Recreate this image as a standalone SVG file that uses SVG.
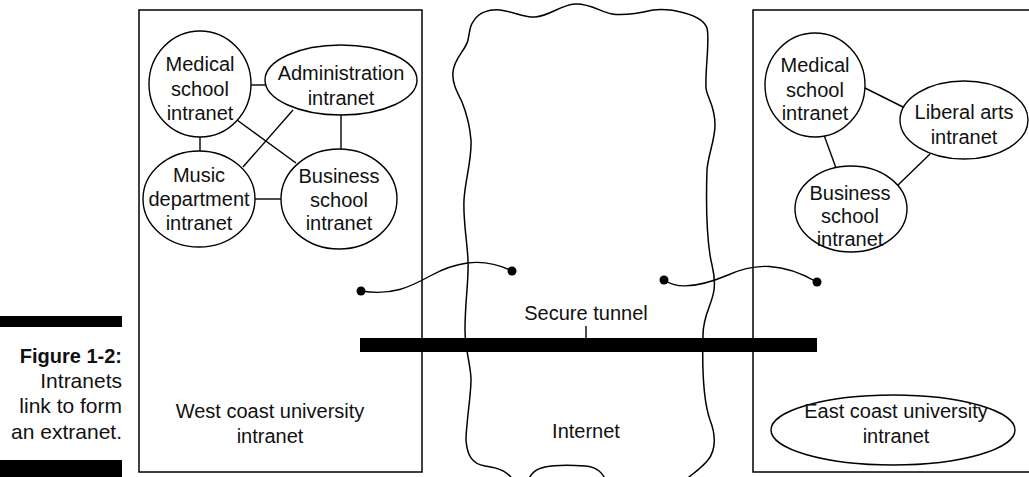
<svg xmlns="http://www.w3.org/2000/svg" width="1029" height="477" viewBox="0 0 1029 477">
<style>
  .box{fill:none;stroke:#000;stroke-width:1.5}
  .node{fill:#fff;stroke:#000;stroke-width:1.4}
  .edge{fill:none;stroke:#000;stroke-width:1.4}
  .cloud{fill:none;stroke:#000;stroke-width:1.5}
  text{font-family:"Liberation Sans",Arial,sans-serif;font-size:20px;fill:#111}
  .c{text-anchor:middle}
  .r{text-anchor:end}
  .cap{font-size:21px}
  .capb{font-size:20px;font-weight:bold}
  .dot{fill:#000}
</style>
<rect width="1029" height="477" fill="#fff"/>

<g id="caption">
  <rect x="0" y="316" width="122" height="11" fill="#000"/>
  <text class="r capb" x="122" y="363">Figure 1-2:</text>
  <text class="r cap" x="122" y="388">Intranets</text>
  <text class="r cap" x="122" y="413">link to form</text>
  <text class="r cap" x="122" y="439">an extranet.</text>
  <rect x="0" y="460" width="122" height="17" fill="#000"/>
</g>

<g id="west-coast">
  <rect class="box" x="139" y="10" width="283" height="462"/>
  <text class="c" x="270" y="418">West coast university</text>
  <text class="c" x="270" y="443">intranet</text>
</g>

<g id="internet">
  <path class="cloud" d="M473,22 C478,12 490,9 500,10 C512,11 525,18 535,17 C550,16 560,5 575,4 C590,3 600,12 612,14 C625,16 640,13 653,10 C670,8 702,14 707,28 C710,40 705,70 706,88 C707,98 715,105 715,125 C715,140 708,155 707,170 C706,200 707,235 710,255 C712,268 716,275 714,290 C712,305 703,315 703,335 C702,370 703,400 710,420 C716,435 716,450 708,460 C700,470 690,475 680,485 L608,485 C603,472 597,467 585,466 C570,465 555,465 545,467 C535,469 530,474 526,485 L516,485 C510,472 500,468 485,466 C472,464 467,455 466,440 C466,425 471,395 471,380 C471,365 465,350 465,330 C465,300 469,280 468,260 C467,240 463,220 464,200 C465,180 472,160 471,140 C470,128 466,112 462,102 C456,90 452,82 453,72 C454,58 466,50 468,40 C470,30 470,25 473,22 Z"/>
  <text class="c" x="586" y="438">Internet</text>
</g>

<g id="east-coast">
  <rect class="box" x="753" y="10" width="300" height="462"/>
  <ellipse class="node" cx="893" cy="430" rx="122" ry="35"/>
  <text class="c" x="896" y="418">East coast university</text>
  <text class="c" x="896" y="443">intranet</text>
</g>

<g id="connectors">
  <line class="edge" x1="250" y1="85" x2="265" y2="85"/>
  <line class="edge" x1="200" y1="136" x2="200" y2="152"/>
  <line class="edge" x1="237" y1="120" x2="296" y2="163"/>
  <line class="edge" x1="293" y1="110" x2="243" y2="167"/>
  <line class="edge" x1="341" y1="115" x2="341" y2="149"/>
  <line class="edge" x1="255" y1="199" x2="282" y2="199"/>
  <line class="edge" x1="865" y1="88" x2="903" y2="107"/>
  <line class="edge" x1="824" y1="135" x2="836" y2="168"/>
  <line class="edge" x1="930" y1="154" x2="896" y2="187"/>
  <path class="edge" d="M361,291 C392,296 410,287 430,276 C452,264 480,255 512,271"/>
  <circle class="dot" cx="361" cy="291" r="4.5"/>
  <circle class="dot" cx="512" cy="271" r="4.5"/>
  <path class="edge" d="M664,280 C678,290 702,286 728,275 C755,263 782,262 817,282"/>
  <circle class="dot" cx="664" cy="280" r="4.5"/>
  <circle class="dot" cx="817" cy="282" r="4.5"/>
</g>

<g id="w-medical">
  <ellipse class="node" cx="200" cy="84" rx="51" ry="53"/>
  <text class="c" x="200" y="71">Medical</text>
  <text class="c" x="200" y="96">school</text>
  <text class="c" x="200" y="120">intranet</text>
</g>
<g id="w-admin">
  <ellipse class="node" cx="341" cy="80" rx="76" ry="35"/>
  <text class="c" x="341" y="80">Administration</text>
  <text class="c" x="341" y="105">intranet</text>
</g>
<g id="w-music">
  <ellipse class="node" cx="199" cy="199" rx="56" ry="48"/>
  <text class="c" x="199" y="182">Music</text>
  <text class="c" x="199" y="206">department</text>
  <text class="c" x="199" y="230">intranet</text>
</g>
<g id="w-business">
  <ellipse class="node" cx="339" cy="199" rx="58" ry="50"/>
  <text class="c" x="339" y="183">Business</text>
  <text class="c" x="339" y="207">school</text>
  <text class="c" x="339" y="230">intranet</text>
</g>

<g id="e-medical">
  <ellipse class="node" cx="815" cy="85" rx="50" ry="52"/>
  <text class="c" x="815" y="72">Medical</text>
  <text class="c" x="815" y="97">school</text>
  <text class="c" x="815" y="120">intranet</text>
</g>
<g id="e-liberal">
  <ellipse class="node" cx="964" cy="120" rx="64" ry="39"/>
  <text class="c" x="964" y="119">Liberal arts</text>
  <text class="c" x="964" y="144">intranet</text>
</g>
<g id="e-business">
  <ellipse class="node" cx="851" cy="209" rx="56" ry="43"/>
  <text class="c" x="850" y="200">Business</text>
  <text class="c" x="850" y="223">school</text>
  <text class="c" x="850" y="246">intranet</text>
</g>

<g id="secure-tunnel">
  <rect x="360" y="338" width="457" height="14" fill="#000"/>
  <line class="edge" x1="586" y1="326" x2="586" y2="338"/>
  <text class="c" x="586" y="320">Secure tunnel</text>
</g>
</svg>
